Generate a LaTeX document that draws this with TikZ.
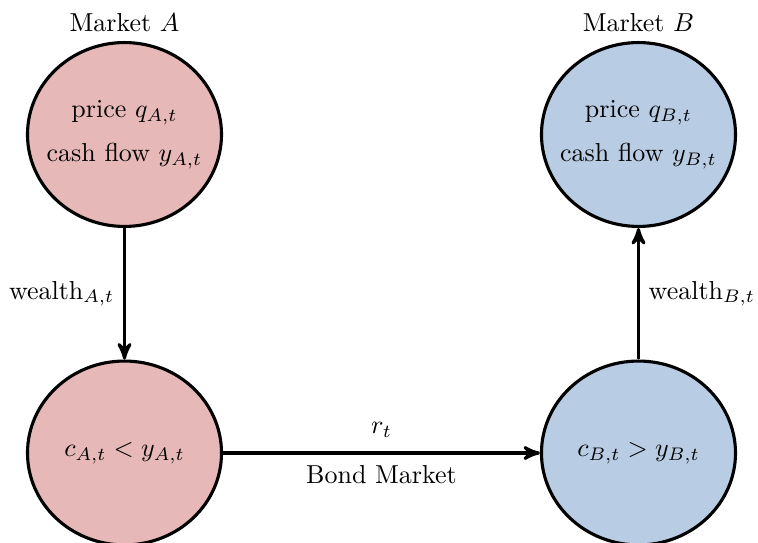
\documentclass[tikz,border=0pt]{standalone}
\usepackage{amssymb,amsmath}
\usepackage{tikz}
\usetikzlibrary{shapes.geometric,arrows}
\definecolor{mktA}{HTML}{E6B8B7}
\definecolor{mktB}{HTML}{B8CCE4}

\begin{document}
\begin{tikzpicture}[x=0.385pt,y=-0.385pt,
market/.style={ellipse,draw=black,line width=1.2pt,inner sep=-4pt,minimum width=74.7pt,minimum height=70.8pt,align=center},
flow/.style={->,>=stealth',line width=1.2pt}]
\useasboundingbox (0,0) rectangle (758,543);
\node[market,fill=mktA,label={[inner sep=3.33pt]above:Market $A$}] (mA) at (124.5,134.5) {price $q_{A,t}$\\[5pt] cash flow $y_{A,t}$};
\node[market,fill=mktB,label={[inner sep=3.33pt]above:Market $B$}] (mB) at (638.5,134.5) {price $q_{B,t}$\\[5pt] cash flow $y_{B,t}$};
\node[market,fill=mktA] (cA) at (124.5,453) {$c_{A,t} < y_{A,t}$};
\node[market,fill=mktB] (cB) at (638.5,453) {$c_{B,t} > y_{B,t}$};
% wealth and bond flows
\draw[flow] (mA) -- node[left] {wealth$_{A,t}$} (cA);
\draw[flow] (cA) -- node[above=2pt] {$r_t$} node[below=1pt] {Bond Market} (cB);
\draw[flow] (cB) -- node[right] {wealth$_{B,t}$} (mB);
\end{tikzpicture}
\end{document}
